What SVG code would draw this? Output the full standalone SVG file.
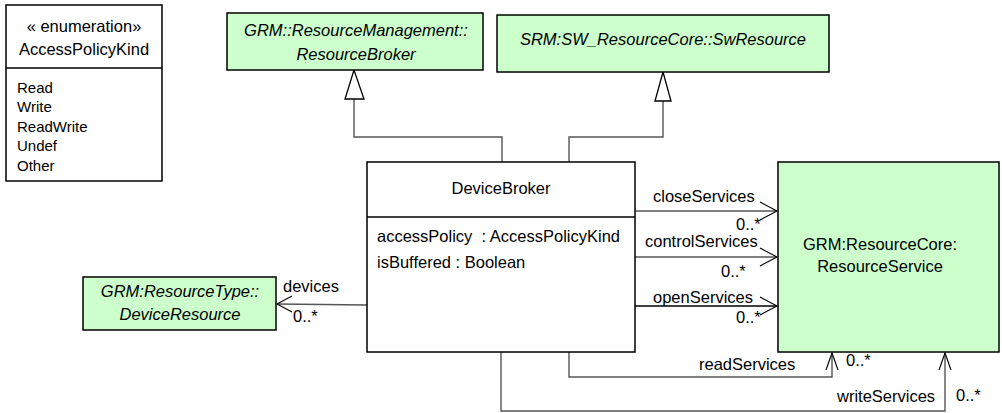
<svg xmlns="http://www.w3.org/2000/svg" width="1002" height="413" viewBox="0 0 1002 413">
<style>
text{font-family:"Liberation Sans",Arial,sans-serif;font-size:16.5px;fill:#000}
.it{font-style:italic}
.c{text-anchor:middle}
.sm{font-size:15px}
.box{fill:#fff;stroke:#000;stroke-width:1.5}
.grn{fill:#ccffcc;stroke:#000;stroke-width:1.5}
.ln{fill:none;stroke:#555;stroke-width:1.4}
.ah{fill:none;stroke:#000;stroke-width:1.1}
.tri{fill:#fff;stroke:#000;stroke-width:1.3}
</style>
<rect width="1002" height="413" fill="#fff"/>
<g id="connectors">
<polyline class="ln" points="502,162 502,137 354,137 354,99"/>
<polygon class="tri" points="354,70 345,99 364,99"/>
<polyline class="ln" points="569,162 569,137 663,137 663,101"/>
<polygon class="tri" points="663,72 655,101 671,101"/>
<line class="ln" x1="367" y1="305" x2="277" y2="304"/>
<polyline class="ah" points="292,296 277,304 292,312"/>
<text x="283" y="292">devices</text>
<text x="293" y="322">0..*</text>
<line class="ln" x1="635" y1="211" x2="777" y2="211"/>
<polyline class="ah" points="760,202 777,211 760,220"/>
<text x="653" y="202">closeServices</text>
<text x="736" y="230">0..*</text>
<line class="ln" x1="635" y1="257" x2="777" y2="257"/>
<polyline class="ah" points="760,248 777,257 760,266"/>
<text x="645" y="247">controlServices</text>
<text x="721" y="277">0..*</text>
<line class="ln" x1="635" y1="306" x2="777" y2="306" style="stroke:#000"/>
<polyline class="ah" points="760,297 777,306 760,315"/>
<text x="653" y="303">openServices</text>
<text x="736" y="323">0..*</text>
<polyline class="ln" points="569,352 569,377 832,377 832,353"/>
<polyline class="ah" points="826,370 832,353 838,370"/>
<text x="699" y="370">readServices</text>
<text x="846" y="366">0..*</text>
<polyline class="ln" points="501,352 501,411 945,411 945,353"/>
<polyline class="ah" points="939,370 945,353 951,370"/>
<text x="837" y="402">writeServices</text>
<text x="956" y="401">0..*</text>
</g>
<g id="AccessPolicyKind">
<rect class="box" x="6" y="5" width="156" height="176"/>
<line x1="6" y1="68" x2="162" y2="68" stroke="#000" stroke-width="1.5"/>
<text class="c" x="84" y="32">« enumeration»</text>
<text class="c" x="84" y="55">AccessPolicyKind</text>
<text class="sm" x="17" y="93">Read</text>
<text class="sm" x="17" y="112">Write</text>
<text class="sm" x="17" y="132">ReadWrite</text>
<text class="sm" x="17" y="151">Undef</text>
<text class="sm" x="17" y="171">Other</text>
</g>
<g id="ResourceBroker">
<rect class="grn" x="227" y="13" width="256" height="57"/>
<text class="it c" x="356" y="36">GRM::ResourceManagement::</text>
<text class="it c" x="356" y="60">ResourceBroker</text>
</g>
<g id="SwResource">
<rect class="grn" x="497" y="15" width="332" height="57"/>
<text class="it c" x="663" y="45">SRM:SW_ResourceCore::SwResource</text>
</g>
<g id="DeviceBroker">
<rect class="box" x="367" y="162" width="268" height="190"/>
<line x1="367" y1="217" x2="635" y2="217" stroke="#000" stroke-width="1.5"/>
<text class="c" x="501" y="194">DeviceBroker</text>
<text x="377" y="242" xml:space="preserve">accessPolicy  : AccessPolicyKind</text>
<text x="377" y="268">isBuffered : Boolean</text>
</g>
<g id="DeviceResource">
<rect class="grn" x="83" y="277" width="193" height="53"/>
<text class="it c" x="180" y="297">GRM:ResourceType::</text>
<text class="it c" x="180" y="320">DeviceResource</text>
</g>
<g id="ResourceService">
<rect class="grn" x="778" y="162" width="221" height="190"/>
<text class="c" x="880" y="250">GRM:ResourceCore:</text>
<text class="c" x="880" y="272">ResourceService</text>
</g>
</svg>
